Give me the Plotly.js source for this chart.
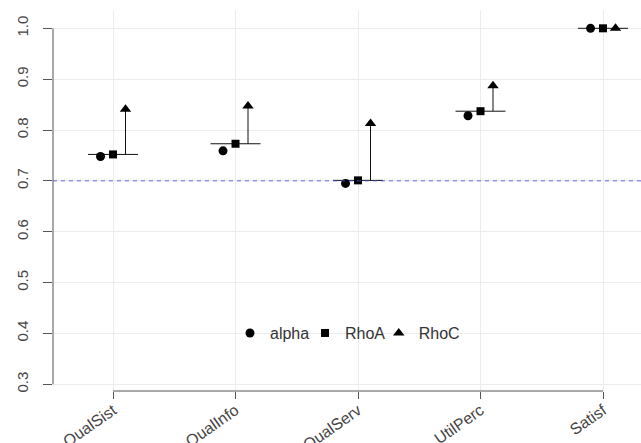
<!DOCTYPE html>
<html>
<head>
<meta charset="utf-8">
<script src="https://cdn.plot.ly/plotly-3.0.1.min.js"></script>
<style>html,body{margin:0;padding:0;background:#fff;}#chart{width:641px;height:443px;}</style>
</head>
<body>
<div id="chart"></div>
<script>
var categories = ["QualSist", "QualInfo", "QualServ", "UtilPerc", "Satisf"];
var alphaVals = [0.748, 0.759, 0.695, 0.828, 1.000];
var rhoAVals  = [0.752, 0.773, 0.701, 0.837, 1.000];
var rhoCVals  = [0.841, 0.847, 0.813, 0.887, 1.000];
var yTicks = [0.3, 0.4, 0.5, 0.6, 0.7, 0.8, 0.9, 1.0];
var threshold = 0.7;

var idx = categories.map(function(c, i){ return i + 1; });
var off = 0.102, half = 0.204;

var hx = [], hy = [], vx = [], vy = [];
idx.forEach(function(x, i){
  hx.push(x - half, x + half, null); hy.push(rhoAVals[i], rhoAVals[i], null);
  vx.push(x + off, x + off, null); vy.push(rhoAVals[i], rhoCVals[i], null);
});

var traces = [
  {x: hx, y: hy, mode: 'lines', line: {color: '#111', width: 1}, showlegend: false, hoverinfo: 'skip'},
  {x: vx, y: vy, mode: 'lines', line: {color: '#111', width: 1}, showlegend: false, hoverinfo: 'skip'},
  {x: idx.map(function(x){return x - off;}), y: alphaVals, name: 'alpha', mode: 'markers',
   legend: 'legend', marker: {symbol: 'circle', size: 9, color: '#000'}},
  {x: idx, y: rhoAVals, name: 'RhoA', mode: 'markers',
   legend: 'legend2', marker: {symbol: 'square', size: 8, color: '#000'}},
  {x: idx.map(function(x){return x + off;}), y: rhoCVals, name: 'RhoC', mode: 'markers',
   legend: 'legend3', marker: {symbol: 'triangle-up', size: 10, color: '#000'}}
];

function leg(x) {
  return {orientation: 'h', x: x, xanchor: 'left', y: 0.152, yanchor: 'middle',
          bgcolor: 'rgba(0,0,0,0)', font: {size: 16, color: '#333'}, itemwidth: 30};
}

var layout = {
  width: 641, height: 443,
  margin: {l: 53, r: 0, t: 10, b: 52},
  paper_bgcolor: '#fff', plot_bgcolor: '#fff',
  font: {family: 'Liberation Sans, Arial, sans-serif', size: 15, color: '#444'},
  xaxis: {
    range: [0.5102, 5.310], tickvals: idx, ticktext: categories,
    showgrid: true, gridcolor: '#ececec', gridwidth: 1,
    zeroline: false, showline: false,
    ticks: 'outside', ticklen: 7, tickcolor: '#555', tickangle: -35,
    ticklabelstandoff: -4,
    tickfont: {size: 16, color: '#444'}
  },
  yaxis: {
    range: [0.2868, 1.036], tickvals: yTicks, ticktext: yTicks.map(function(v){return v.toFixed(1);}),
    showgrid: true, gridcolor: '#ececec', gridwidth: 1,
    zeroline: false, showline: false,
    ticks: 'outside', ticklen: 9, tickcolor: '#555', tickangle: -90,
    ticklabelstandoff: 9,
    tickfont: {size: 15, color: '#444'}
  },
  shapes: [
    {type: 'line', xref: 'x', yref: 'paper', x0: 1, x1: 5, y0: 0, y1: 0, line: {color: '#555', width: 1}},
    {type: 'line', xref: 'paper', yref: 'y', x0: 0, x1: 0, y0: 0.3, y1: 1.0, line: {color: '#555', width: 1}},
    {type: 'line', xref: 'paper', yref: 'y', x0: 0, x1: 1, y0: threshold, y1: threshold,
     line: {color: 'rgba(70,70,230,0.85)', width: 1, dash: '4px,4px'}}
  ],
  legend: leg(0.301),
  legend2: leg(0.4286),
  legend3: leg(0.554),
  showlegend: true
};

Plotly.newPlot('chart', traces, layout, {displayModeBar: false, staticPlot: true});
</script>
</body>
</html>
